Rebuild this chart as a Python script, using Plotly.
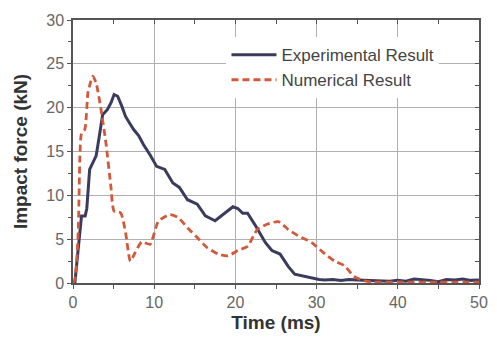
import plotly.graph_objects as go

# Experimental result (time ms, force kN)
exp_t = [0.0, 0.24, 0.6, 1.05, 1.5, 1.7, 2.05, 2.85, 3.2, 3.65, 4.25, 4.7, 5.06, 5.5, 6.0, 6.47, 7.0, 7.47, 8.1, 8.67,
         9.5, 10.3, 11.3, 12.3, 13.1, 14.1, 15.3, 16.3, 17.5, 18.3, 19.0, 19.7, 20.3, 20.9, 21.5, 22.5, 23.7, 24.5,
         25.5, 26.5, 27.3, 28.2, 29.0, 30.3, 31, 32, 33, 34, 35, 36, 37, 38, 39, 40, 41, 42, 43, 44, 45, 46, 47,
         48, 49, 50]
exp_f = [0.0, 0.1, 3.5, 7.65, 7.65, 8.5, 12.95, 14.5, 16.5, 19.2, 19.8, 20.6, 21.5, 21.3, 20.2, 19.0, 18.2, 17.5, 16.8,
         15.8, 14.6, 13.3, 12.95, 11.4, 10.9, 9.5, 9.0, 7.65, 7.1, 7.65, 8.2, 8.7, 8.5, 7.95, 7.95, 6.5, 4.6, 3.7,
         3.3, 1.9, 1.0, 0.8, 0.65, 0.4, 0.35, 0.4, 0.3, 0.4, 0.35, 0.3, 0.25, 0.2, 0.2, 0.3, 0.2, 0.45, 0.4, 0.3,
         0.15, 0.4, 0.35, 0.45, 0.3, 0.35]

# Numerical result
num_t = [0.0, 0.24, 0.64, 0.84, 1.05, 1.45, 1.84, 2.2, 2.45, 2.85, 3.45, 4.05, 4.66, 5.06, 5.87, 6.47, 7.07, 7.67,
         8.47, 9.48, 10.5, 11.9, 12.9, 14.3, 15.5, 16.5, 17.9, 19.1, 20.3, 21.5, 22.7, 23.9, 25.3, 26.5, 27.7,
         29.4, 30.8, 32.2, 33.4, 34.6, 35.8, 37, 40, 45, 50]
num_f = [0.0, 0.45, 5.76, 14.1, 17.1, 17.5, 21.7, 23.0, 23.6, 22.8, 19.8, 16.0, 11.05, 8.2, 8.0, 5.76, 2.5, 3.5,
         4.7, 4.4, 7.0, 7.8, 7.5, 6.1, 5.0, 4.05, 3.3, 3.1, 3.7, 4.2, 6.1, 6.7, 7.0, 6.1, 5.4,
         4.6, 3.5, 2.5, 2.0, 0.75, 0.26, 0.1, 0.1, 0.1, 0.1]

x_ticks = [0, 10, 20, 30, 40, 50]
y_ticks = [0, 5, 10, 15, 20, 25, 30]

fig = go.Figure()
fig.add_trace(go.Scatter(x=exp_t, y=exp_f, mode="lines", name="Experimental Result",
                         line=dict(color="#3b3b5e", width=3)))
# drawn on the identical overlay axes (same ranges) so the top/right frame axes are rendered
fig.add_trace(go.Scatter(x=num_t, y=num_f, mode="lines", name="Numerical Result",
                         xaxis="x2", yaxis="y2",
                         line=dict(color="#d4583c", width=2.8, dash="7px,4px", shape="spline", smoothing=0.6)))

font_fam = "Liberation Sans, Arial"
axis_font = dict(family=font_fam, size=16, color="#666666")
title_font = dict(family=font_fam, size=19, color="#333333")

fig.update_layout(
    width=497, height=339,
    margin=dict(l=73, r=9, t=20, b=55),
    paper_bgcolor="white", plot_bgcolor="white",
    showlegend=True,
    legend=dict(x=0.378, y=0.935, xanchor="left", yanchor="top", bgcolor="white",
                font=dict(family=font_fam, size=17, color="#444444"),
                itemwidth=45, tracegroupgap=0),
    xaxis=dict(range=[0, 50], tickvals=x_ticks, ticktext=[str(v) for v in x_ticks],
               showgrid=True, gridcolor="#b0b0b0", gridwidth=1,
               showline=True, linecolor="#555555", linewidth=1.5,
               ticks="outside", ticklen=4, tickcolor="#555555",
               minor=dict(dtick=5, ticks="outside", ticklen=4, tickcolor="#555555", showgrid=False),
               tickfont=axis_font, zeroline=False,
               title=dict(text="<b>Time (ms)</b>", font=title_font, standoff=6)),
    yaxis=dict(range=[0, 30], tickvals=y_ticks, ticktext=[str(v) for v in y_ticks],
               showgrid=True, gridcolor="#b0b0b0", gridwidth=1,
               showline=True, linecolor="#555555", linewidth=1.5,
               ticks="outside", ticklen=4, tickcolor="#555555",
               minor=dict(dtick=2.5, ticks="outside", ticklen=3, tickcolor="#555555", showgrid=False),
               tickfont=axis_font, zeroline=False,
               title=dict(text="<b>Impact force (kN)</b>", font=title_font, standoff=14)),
    xaxis2=dict(overlaying="x", side="top", range=[0, 50], showgrid=False, showticklabels=False,
                showline=True, linecolor="#555555", linewidth=1.5, ticks="inside", ticklen=4,
                tickcolor="#555555", dtick=5, zeroline=False),
    yaxis2=dict(overlaying="y", side="right", range=[0, 30], showgrid=False, showticklabels=False,
                showline=True, linecolor="#555555", linewidth=1.5, ticks="inside", ticklen=4,
                tickcolor="#555555", dtick=2.5, zeroline=False),
)

fig.write_html("out.html")
